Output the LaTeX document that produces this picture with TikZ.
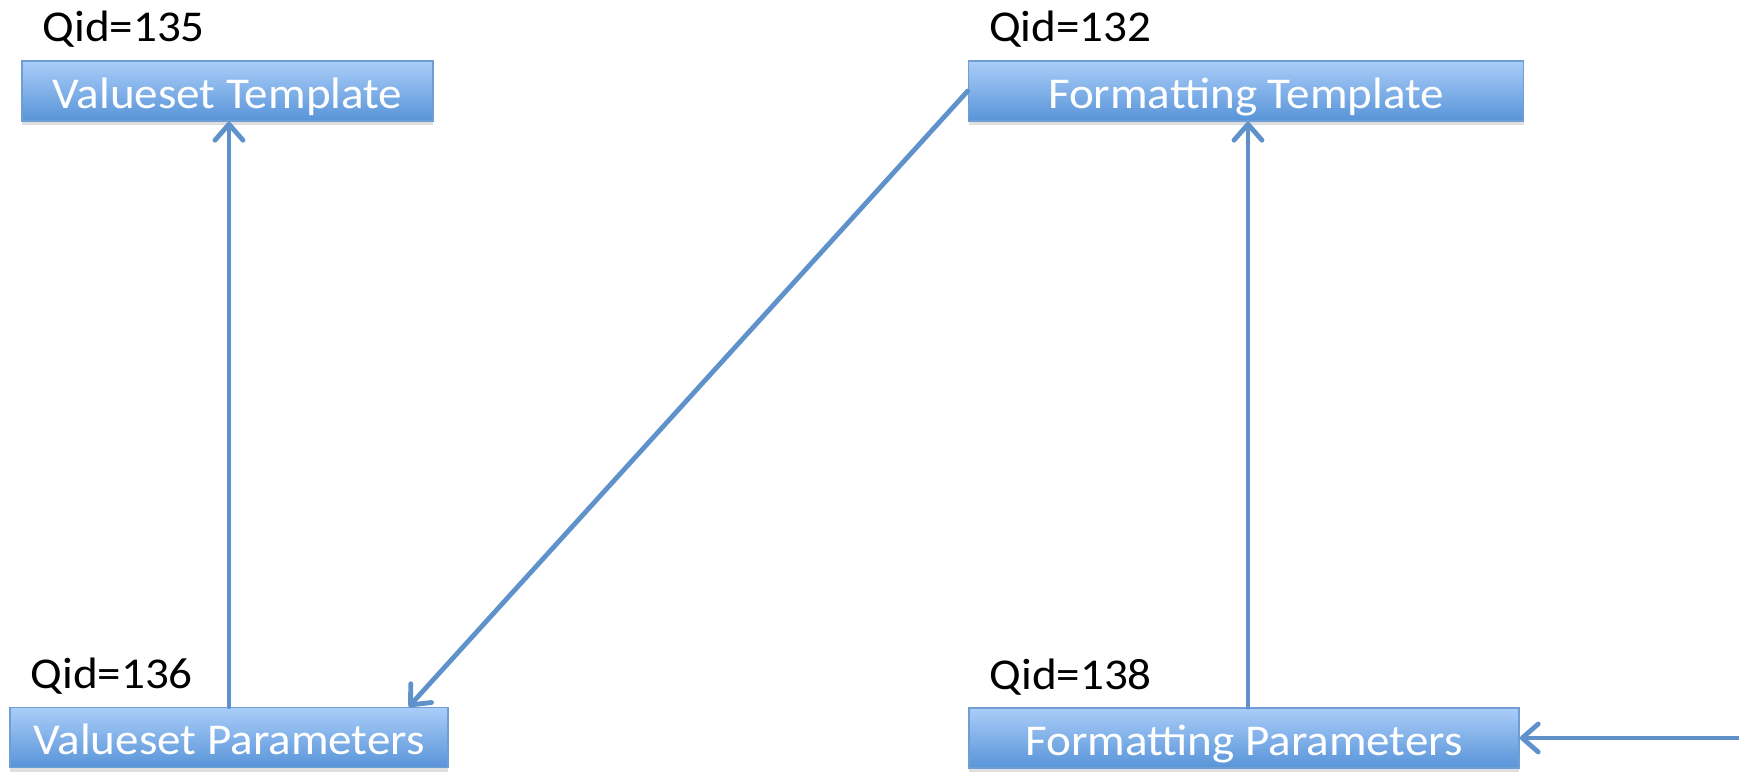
\documentclass[tikz,border=0pt]{standalone}
\usepackage{fontspec}
\setmainfont{Carlito}[FakeStretch=1.07]
\usetikzlibrary{arrows.meta,shadows}

\definecolor{boxtop}{RGB}{170,205,249}
\definecolor{boxbot}{RGB}{88,148,216}
\definecolor{boxline}{RGB}{110,158,212}
\definecolor{linkblue}{RGB}{95,145,202}

\begin{document}
\begin{tikzpicture}[x=0.5pt, y=-0.5pt,
    tmpl/.style={draw=boxline, line width=0.8pt, top color=boxtop, bottom color=boxbot,
        text=white, font=\fontsize{22}{26}\selectfont, minimum height=30pt,
        inner sep=0pt, text height=17pt, text depth=0pt,
        drop shadow={shadow xshift=0pt, shadow yshift=-2pt, opacity=0.25}},
    qid/.style={anchor=base west, inner sep=0pt, font=\fontsize{22}{26}\selectfont},
    link/.style={draw=linkblue, line width=2.4pt, line cap=round,
        -{Straight Barb[length=8pt, width=14pt, round]}}]
    \useasboundingbox (0,0) rectangle (1739,771);

    % boxes
    \node[tmpl, minimum width=205.5pt] (vt) at (227.5,91) {Valueset Template};
    \node[tmpl, minimum width=277.5pt] (ft) at (1246,91) {Formatting Template};
    \node[tmpl, minimum width=219pt] (vp) at (229,737.5) {Valueset Parameters};
    \node[tmpl, minimum width=275pt] (fp) at (1244,738) {Formatting Parameters};

    % ids
    \node[qid] (q135) at ([xshift=10.5pt, yshift=9.5pt]vt.north west) {Qid=135};
    \node[qid] (q132) at ([xshift=10.5pt, yshift=9.5pt]ft.north west) {Qid=132};
    \node[qid] (q136) at ([xshift=10.5pt, yshift=9pt]vp.north west) {Qid=136};
    \node[qid] (q138) at ([xshift=10.5pt, yshift=9pt]fp.north west) {Qid=138};

    % links
    \draw[link] (vp.north) -- (vp.north |- vt.south);
    \draw[link] (ft.west) -- ([xshift=-20pt]vp.north east);
    \draw[link] ([xshift=2pt]fp.north) -- ([xshift=2pt]fp.north |- ft.south);
    \coordinate (feed) at (1738,738);
    \draw[link] (feed) -- (fp.east);
\end{tikzpicture}
\end{document}
